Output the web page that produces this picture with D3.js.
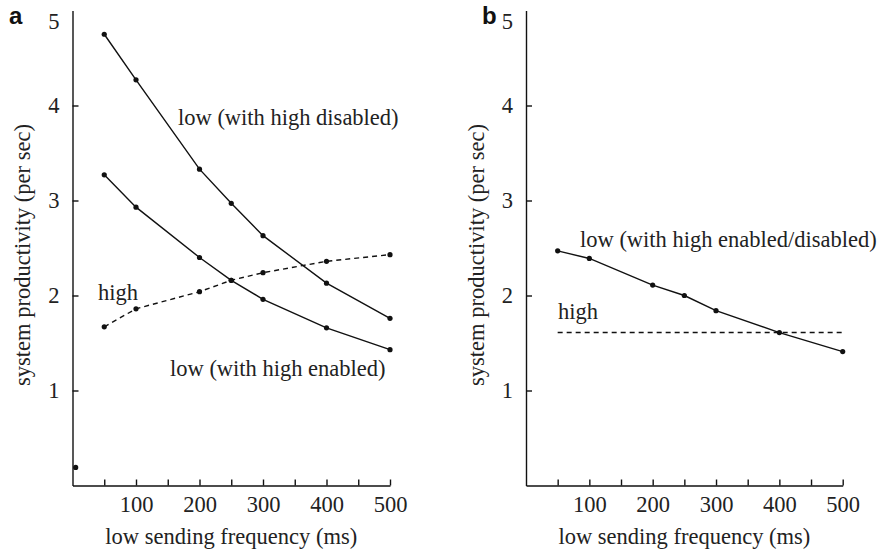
<!DOCTYPE html>
<html>
<head>
<meta charset="utf-8">
<script src="https://cdn.jsdelivr.net/npm/d3@7"></script>
<style>
  html, body { margin: 0; padding: 0; background: #fff; }
  svg { display: block; }
</style>
</head>
<body>
<svg id="chart" width="885" height="552"></svg>
<script>
// Sending interval of the low-priority stream (ms)
const freqA = [50, 100, 200, 250, 300, 400, 500];
const freqB = [50, 100, 200, 250, 300, 400, 500];

// Panel a: productivity (per sec)
const lowDisabledA = [4.75, 4.27, 3.33, 2.97, 2.63, 2.13, 1.76];
const lowEnabledA  = [3.27, 2.93, 2.40, 2.16, 1.96, 1.66, 1.43];
const highA        = [1.67, 1.86, 2.04, 2.16, 2.24, 2.36, 2.43];
// isolated point near the origin of panel a
const strayA = [{ f: 5, v: 0.19 }];

// Panel b: productivity (per sec)
const lowB  = [2.47, 2.39, 2.11, 2.00, 1.84, 1.61, 1.41];
const highB = [1.61, 1.61];
const highBRange = [50, 500];

const yTicks = [1, 2, 3, 4, 5];
const xTicks = [50, 100, 150, 200, 250, 300, 350, 400, 450, 500];
const xLabels = [100, 200, 300, 400, 500];

const SERIF = "'Liberation Serif', 'Times New Roman', 'DejaVu Serif', serif";
const SANS = "'Liberation Sans', Arial, sans-serif";
const FS = 22.5;

const svg = d3.select("#chart");

function serifText(sel) {
  return sel.style("font-family", SERIF).style("font-size", FS + "px").attr("fill", "#222");
}

function panel(opts) {
  const g = svg.append("g");
  const x = d3.scaleLinear().domain([0, 500]).range(opts.xr);
  const y = d3.scaleLinear().domain([0, 5]).range([485.5, 10.5]);

  // y axis, ticks pointing inward
  const ya = g.append("g").attr("transform", `translate(${opts.xr[0]},0)`)
    .call(d3.axisLeft(y).tickValues(yTicks).tickSizeInner(-6).tickSizeOuter(0)
      .tickPadding(13).tickFormat(d3.format("d")));
  ya.attr("font-family", null).attr("font-size", null);
  ya.select(".domain").attr("stroke", "#111").attr("stroke-width", 1.4);
  ya.selectAll(".tick line").attr("stroke", "#111").attr("stroke-width", 1.4);
  serifText(ya.selectAll(".tick text"));
  ya.selectAll(".tick").filter(d => d === 5).select("line").remove();
  ya.selectAll(".tick").filter(d => d === 5).select("text").attr("dy", "0.82em");

  // x axis, ticks pointing up
  const xa = g.append("g").attr("transform", `translate(0,${y(0)})`)
    .call(d3.axisBottom(x).tickValues(xTicks).tickSizeInner(-6).tickSizeOuter(0)
      .tickPadding(11).tickFormat(d => xLabels.includes(d) ? d : ""));
  xa.attr("font-family", null).attr("font-size", null);
  xa.select(".domain").attr("stroke", "#111").attr("stroke-width", 1.4);
  xa.selectAll(".tick line").attr("stroke", "#111").attr("stroke-width", 1.4);
  serifText(xa.selectAll(".tick text"));

  // axis titles
  serifText(g.append("text"))
    .attr("text-anchor", "middle")
    .attr("transform", `translate(${opts.yTitleX},255) rotate(-90)`)
    .attr("dy", "0.35em")
    .text("system productivity (per sec)");
  serifText(g.append("text"))
    .attr("text-anchor", "middle")
    .attr("x", (x(0) + x(500)) / 2 + opts.xTitleShift).attr("y", 544)
    .text("low sending frequency (ms)");

  // panel letter
  g.append("text").attr("x", opts.letterX).attr("y", 24)
    .style("font-family", SANS)
    .style("font-weight", "bold").style("font-size", "24px").attr("fill", "#111")
    .text(opts.letter);

  const line = d3.line().x(d => x(d[0])).y(d => y(d[1]));

  opts.series.forEach(s => {
    const pts = s.f.map((f, i) => [f, s.v[i]]);
    g.append("path").datum(pts).attr("d", line)
      .attr("fill", "none").attr("stroke", "#111").attr("stroke-width", 1.4)
      .attr("stroke-dasharray", s.dashed ? "5,4" : null);
    if (s.dots !== false) {
      g.selectAll(null).data(pts).enter().append("circle")
        .attr("cx", d => x(d[0])).attr("cy", d => y(d[1])).attr("r", 2.6)
        .attr("fill", "#111");
    }
  });

  (opts.stray || []).forEach(p => {
    g.append("circle").attr("cx", x(p.f)).attr("cy", y(p.v)).attr("r", 2.6).attr("fill", "#111");
  });

  opts.labels.forEach(l => {
    serifText(g.append("text")).attr("x", l.x).attr("y", l.y).text(l.t);
  });
}

panel({
  letter: "a", letterX: 9,
  xr: [72.5, 390], yTitleX: 22, xTitleShift: 0,
  series: [
    { f: freqA, v: lowDisabledA },
    { f: freqA, v: lowEnabledA },
    { f: freqA, v: highA, dashed: true }
  ],
  stray: strayA,
  labels: [
    { t: "low (with high disabled)", x: 178, y: 125 },
    { t: "high", x: 98, y: 300 },
    { t: "low (with high enabled)", x: 170, y: 376 }
  ]
});

panel({
  letter: "b", letterX: 482,
  xr: [526, 842.7], yTitleX: 476, xTitleShift: 0,
  series: [
    { f: freqB, v: lowB },
    { f: highBRange, v: highB, dashed: true, dots: false }
  ],
  labels: [
    { t: "low (with high enabled/disabled)", x: 580, y: 247 },
    { t: "high", x: 558, y: 319 }
  ]
});
</script>
</body>
</html>
